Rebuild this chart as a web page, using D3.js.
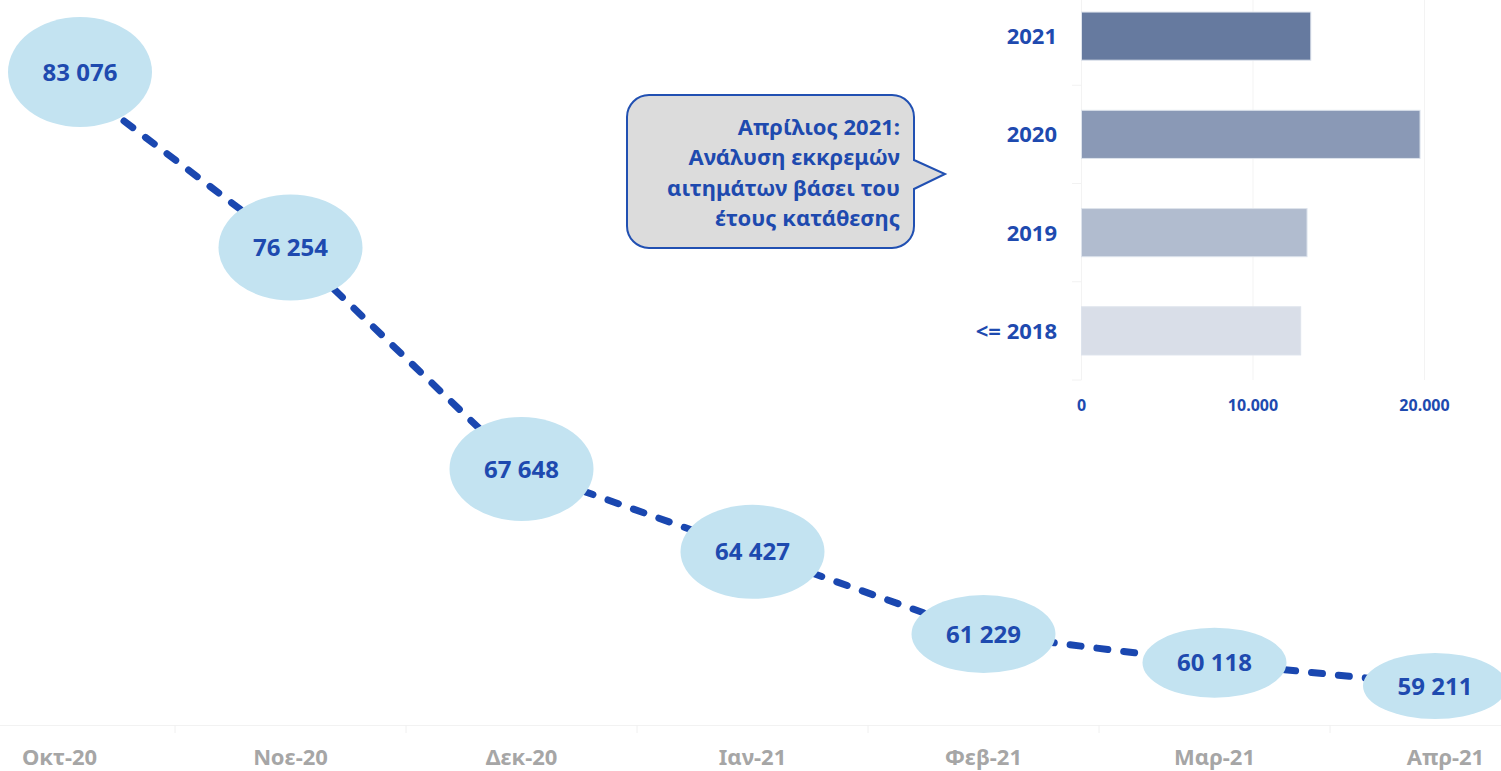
<!DOCTYPE html>
<html>
<head>
<meta charset="utf-8">
<script src="https://cdn.jsdelivr.net/npm/d3@7"></script>
<style>
	body { margin: 0; background: #fff; }
	svg { display: block; font-family: 'Noto Sans', sans-serif; font-weight: bold; }
</style>
</head>
<body>
<svg width="1501" height="771"></svg>
<script>
// monthly pending applications
var months = ['Οκτ-20', 'Νοε-20', 'Δεκ-20', 'Ιαν-21', 'Φεβ-21', 'Μαρ-21', 'Απρ-21'];
var pending = [83076, 76254, 67648, 64427, 61229, 60118, 59211];

// April 2021 breakdown by filing year
var years = ['2021', '2020', '2019', '<= 2018'];
var byYear = [13370, 19740, 13150, 12780];
var barTicks = [0, 10000, 20000];

var calloutLines = ['Απρίλιος 2021:', 'Ανάλυση εκκρεμών', 'αιτημάτων βάσει του', 'έτους κατάθεσης'];

// styling
var yearColors = ['#667a9f', '#8a99b6', '#b1bccf', '#d9dee8'];
var bubbleRy = [55, 53, 52, 47, 39, 35, 33];
var blue = '#1e4aaf';

var svg = d3.select('svg');

// ---- main line chart ----
var x = d3.scaleBand().domain(months).range([-56, 1561]);
var y = d3.scaleLinear().domain([57695, 83076]).range([725, 72]);

var axisG = svg.append('g')
	.attr('transform', 'translate(0,725)')
	.call(d3.axisBottom(x).tickSize(0).tickPadding(24));
axisG.select('.domain').attr('stroke', '#f2f2f2');
axisG.selectAll('text')
	.attr('fill', '#a6a6a6')
	.style('font-size', '22px')
	.style('font-family', "'Noto Sans', sans-serif")
	.style('font-weight', 'bold');

// band separators
axisG.selectAll('.sep')
	.data(months.slice(1))
	.enter().append('line')
	.attr('x1', function(d) { return x(d); })
	.attr('x2', function(d) { return x(d); })
	.attr('y1', 0).attr('y2', 8)
	.attr('stroke', '#f0f0f0');

var cx = function(d, i) { return x(months[i]) + x.bandwidth() / 2; };

var line = d3.line()
	.x(function(d, i) { return cx(d, i); })
	.y(function(d) { return y(d); });

svg.append('path')
	.datum(pending)
	.attr('d', line)
	.attr('fill', 'none')
	.attr('stroke', '#1a47b0')
	.attr('stroke-width', 7)
	.attr('stroke-linecap', 'round')
	.attr('stroke-dasharray', '11 16');

var rx = 72;
var labelX = function(d, i) { return Math.max(rx + 8, Math.min(1501 - rx + 6, cx(d, i))); };

var lbl = svg.selectAll('.lbl')
	.data(pending)
	.enter().append('g')
	.attr('class', 'lbl')
	.attr('transform', function(d, i) { return 'translate(' + labelX(d, i) + ',' + y(d) + ')'; });

lbl.append('ellipse')
	.attr('rx', rx)
	.attr('ry', function(d, i) { return bubbleRy[i]; })
	.attr('fill', '#c3e3f1');

lbl.append('text')
	.attr('text-anchor', 'middle')
	.attr('dy', '0.36em')
	.attr('fill', blue)
	.style('font-size', '24px')
	.text(function(d) { return d3.format(',')(d).replace(',', ' '); });

// ---- inset bar chart ----
var bx = d3.scaleLinear().domain([0, 20000]).range([1081.5, 1424.5]);
var by = d3.scaleBand().domain(years).range([-13, 380]).paddingInner(0.51).paddingOuter(0.255);

var inset = svg.append('g');

inset.selectAll('.grid')
	.data(barTicks)
	.enter().append('line')
	.attr('x1', function(d) { return bx(d); })
	.attr('x2', function(d) { return bx(d); })
	.attr('y1', 0).attr('y2', 380)
	.attr('stroke', '#f3f3f3');

// category separators on the left axis
inset.selectAll('.ytick')
	.data(d3.range(years.length + 1))
	.enter().append('line')
	.attr('x1', 1072).attr('x2', 1081.5)
	.attr('y1', function(i) { return -13 + i * by.step(); })
	.attr('y2', function(i) { return -13 + i * by.step(); })
	.attr('stroke', '#f2f2f2');

inset.selectAll('.bar')
	.data(byYear)
	.enter().append('rect')
	.attr('x', bx(0))
	.attr('y', function(d, i) { return by(years[i]); })
	.attr('width', function(d) { return bx(d) - bx(0); })
	.attr('height', by.bandwidth())
	.attr('fill', function(d, i) { return yearColors[i]; })
	.attr('stroke', '#dde3ec')
	.attr('stroke-width', 1);

inset.selectAll('.ylab')
	.data(years)
	.enter().append('text')
	.attr('x', 1057)
	.attr('y', function(d) { return by(d) + by.bandwidth() / 2; })
	.attr('dy', '0.36em')
	.attr('text-anchor', 'end')
	.attr('fill', blue)
	.style('font-size', '22px')
	.text(function(d) { return d; });

inset.selectAll('.xlab')
	.data(barTicks)
	.enter().append('text')
	.attr('x', function(d) { return bx(d); })
	.attr('y', 405)
	.attr('dy', '0.36em')
	.attr('text-anchor', 'middle')
	.attr('fill', blue)
	.style('font-size', '16px')
	.text(function(d) { return d3.format(',')(d).replace(',', '.'); });

// ---- callout ----
var c = { x0: 627, y0: 95, x1: 914, y1: 248, r: 22 };
var p = d3.path();
p.moveTo(c.x0 + c.r, c.y0);
p.lineTo(c.x1 - c.r, c.y0);
p.arcTo(c.x1, c.y0, c.x1, c.y0 + c.r, c.r);
p.lineTo(c.x1, 160);
p.lineTo(945, 174);
p.lineTo(c.x1, 189);
p.lineTo(c.x1, c.y1 - c.r);
p.arcTo(c.x1, c.y1, c.x1 - c.r, c.y1, c.r);
p.lineTo(c.x0 + c.r, c.y1);
p.arcTo(c.x0, c.y1, c.x0, c.y1 - c.r, c.r);
p.lineTo(c.x0, c.y0 + c.r);
p.arcTo(c.x0, c.y0, c.x0 + c.r, c.y0, c.r);
p.closePath();

svg.append('path')
	.attr('d', p.toString())
	.attr('fill', '#dcdcdc')
	.attr('stroke', '#2150b2')
	.attr('stroke-width', 2);

svg.selectAll('.cl')
	.data(calloutLines)
	.enter().append('text')
	.attr('x', 900)
	.attr('y', function(d, i) { return 127 + i * 30.5; })
	.attr('dy', '0.36em')
	.attr('text-anchor', 'end')
	.attr('fill', blue)
	.style('font-size', '22px')
	.text(function(d) { return d; });
</script>
</body>
</html>
